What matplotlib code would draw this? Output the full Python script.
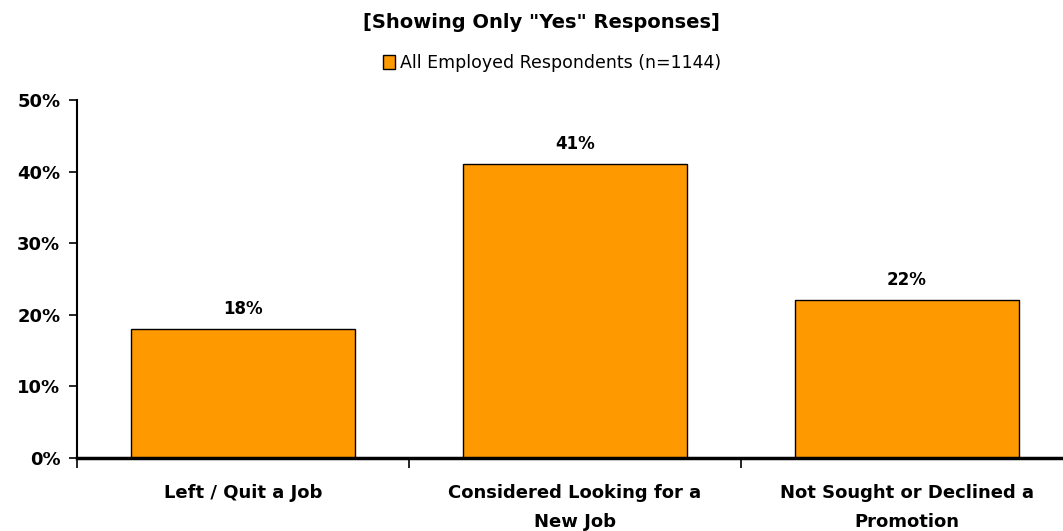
import matplotlib.pyplot as plt
import numpy as np

categories = ['Left / Quit a Job', 'Considered Looking for a\nNew Job', 'Not Sought or Declined a\nPromotion']
values = [18, 41, 22]
series_label = 'All Employed Respondents (n=1144)'
title = '[Showing Only "Yes" Responses]'
yticks = [0, 10, 20, 30, 40, 50]

plt.rcParams['font.family'] = 'DejaVu Sans'

W, H = 1063, 531
fig = plt.figure(figsize=(W / 100, H / 100), dpi=100)
ax = fig.add_axes([77 / W, (H - 458) / H, 996 / W, 358 / H])

x = np.arange(len(categories))
bars = ax.bar(x, values, width=0.675, color='#FF9900', edgecolor='black', linewidth=1.0,
              label=series_label, zorder=2)

for xi, v in zip(x, values):
    ax.text(xi, v + 1.6, f'{v}%', ha='center', va='bottom', fontsize=12, fontweight='bold')

ax.set_xlim(-0.5, 2.5)
ax.set_ylim(0, 50)
ax.set_yticks(yticks)
ax.set_yticklabels([f'{t}%' for t in yticks], fontsize=13, fontweight='bold')
ax.set_xticks([-0.5, 0.5, 1.5, 2.5])
ax.set_xticklabels([])
ax.set_xticks(x, minor=True)
ax.set_xticklabels(categories, minor=True, fontsize=13, fontweight='bold',
                   linespacing=1.75, va='top')
ax.tick_params(axis='x', which='minor', length=0, pad=19)
ax.tick_params(axis='x', which='major', length=7, width=1.2, direction='out')
ax.tick_params(axis='y', length=6, width=1.2, direction='out', pad=6)

for s in ['top', 'right']:
    ax.spines[s].set_visible(False)
ax.spines['left'].set_linewidth(1.5)
ax.spines['bottom'].set_linewidth(2.5)

fig.text(541 / W, 1 - 22 / H, title, ha='center', va='center', fontsize=14, fontweight='bold')
leg = fig.legend(handles=[bars], labels=[series_label], loc='center', bbox_to_anchor=(552 / W, 1 - 63 / H),
                 frameon=False, handlelength=0.7, handleheight=0.9, handletextpad=0.3,
                 prop={'size': 12.5})

fig.savefig('out.png', dpi=100)
